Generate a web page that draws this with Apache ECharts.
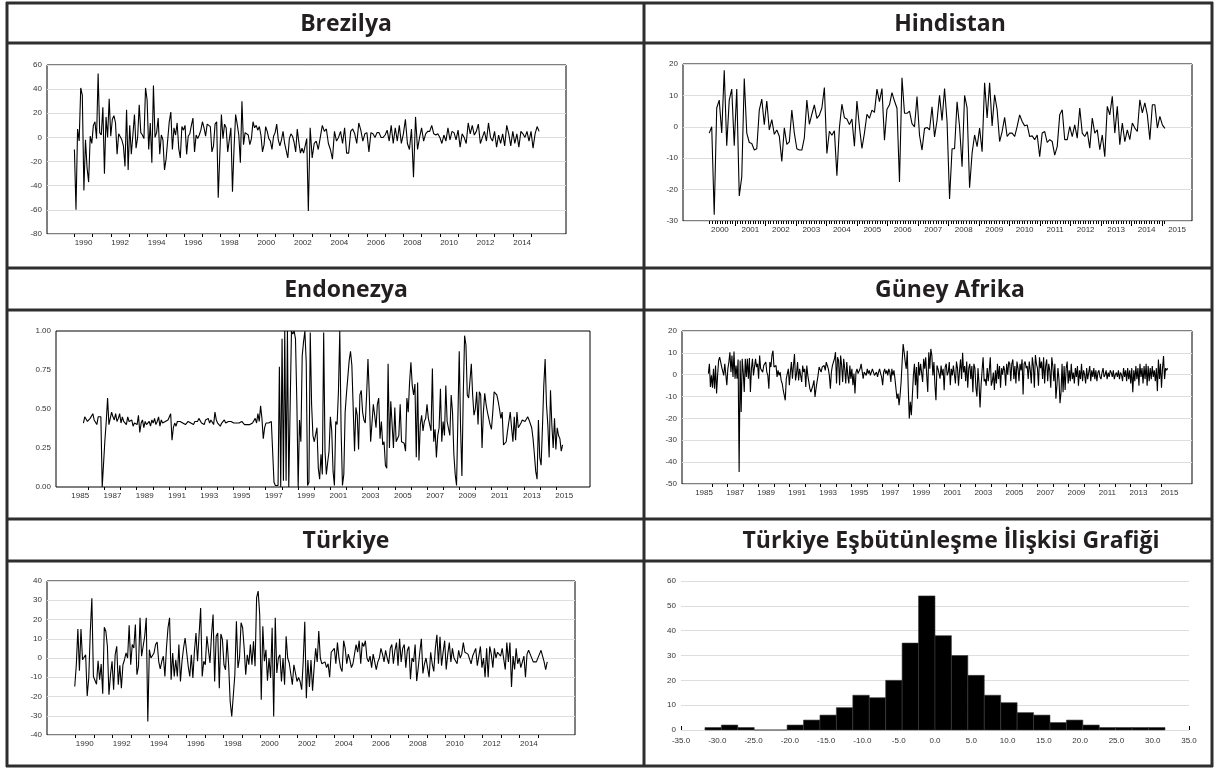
<!DOCTYPE html>
<html>
<head>
<meta charset="utf-8">
<script src="https://cdn.jsdelivr.net/npm/echarts@6.0.0/dist/echarts.min.js"></script>
<style>
html, body { margin: 0; padding: 0; background: #fff; }
#chart { width: 1216px; height: 768px; }
</style>
</head>
<body>
<div id="chart"></div>
<script>
// ---- data ----
var breLabels = [1990, 1992, 1994, 1996, 1998, 2000, 2002, 2004, 2006, 2008, 2010, 2012, 2014];
// 1989 - 2002 crash
var breSpanA = [1989.5, 2002.3];
var breValuesA = [
  -10, -60, 7, -3, 41, 35, -44, -2, -25, -37, 1, -5, 10, 13, -1, 53, 4, 2, 25, -30, 17, 0, 32, 1, 15, 18, 12, -14, 3, 2,
  -2, -7, -24, 23, -27, 10, -14, 2, 19, -9, 0, 27, 4, 2, -1, 41, 31, -10, 12, -21, 43, 0, 4, 16, -14, 2, -2, -27, -18, -18,
  13, 21, -10, 8, 2, 12, -9, -17, 9, 6, 10, -14, 1, 3, 10, 16, -12, 2, -1, 2, 6, 13, 8, 1, 11, 11, 9, -12, -7, 11,
  13, -50, -14, 19, -1, 11, 8, -12, -12, 8, -45, -9, 19, 11, 2, -21, 30, -6, 4, 3, 2, -6, -1, 13, 8, 10, 6, 9, 2, -12,
  -6, 9, 5, -1, -3, -10, 1, 4, 11, -2, -7, -2, 5, -5, -5, -17, -1, 3, 1, -4, -12, 7, -4, -13, -9, -13, -14, -1, -61
];
// after the crash to the end
var breSpanB = [2002.4, 2014.93];
var breValuesB = [
  8, -17, -5, -3, -10, 0, 10, 5, 7, -5, -10, -18, 5, -3, 0, 5, -5, 8, -13, -13, 5, 7, 3, -5, 12, 6, -3, 3, 4, -12,
  4, 3, 0, 4, 4, 0, 0, 2, 6, -3, 10, -5, 8, -3, 10, -5, 3, 15, -5, -10, 7, -33, 17, -10, 0, 8, -3, 3, 5, 5,
  10, 3, 2, 3, 0, -5, 2, -3, 8, -2, 5, 4, -2, 6, -8, 3, 0, -5, 12, 3, 10, 2, 5, 11, -5, 0, 5, -3, 12, 0,
  -3, 5, -8, 2, -5, 3, -7, 10, 3, -7, 5, -5, 3, -8, 5, 3, 0, 5, -3, 5, -9, 3, 9, 5
];

var hinLabels = [2000, 2001, 2002, 2003, 2004, 2005, 2006, 2007, 2008, 2009, 2010, 2011, 2012, 2013, 2014, 2015];
var hinSpan = [1999.65, 2014.6];
var hinValues = [
  -2, 0, -28, 6, 8.5, -2, 18, -6, 8.5, 12, -6, 12, -22, -16, 15.4, -2, -5, -5.3, -7.4, -7,
  5.3, 8.8, 0.7, 8.2, -1, 2.3, -2.4, -1, -3, -11, -0.3, -5.6, -4.8, 5.3, -2, -7, -7.4, -7.4, -3.5, 8.5,
  0.8, 4, 7, 2.7, 3.7, 6, 12.5, -8.5, -1.4, -2.7, -1.3, -15.6, -0.3, 7.2, 2.9, 2.5, 0.7, 2.5, -6.2, 8.2,
  0, -6.9, -2, 4, 2.7, 5.3, 4.6, 12, 8, 12.2, -4.3, 5.6, 7, 10.9, 8.2, 5.9, -17.6, 15.6, 4.3, 4.3,
  5, 1, 0, 9.6, -2.7, -7.4, -0.5, -0.2, -1, 6.4, -3.2, 2, 10, 2, 12.2, 1.6, -23,
  -7, -7, 8, 0, -12.7, 10, 6, -19.4, -8.4, -2.6, -6.3, -0.4, -7.9, 14, 2.8, 14, 0.3, 10.2, 5.4, -4.7,
  -1.5, 3, -3.1, -2, -2, -3.1, 0.1, 3.8, 1.7, 0.3, 0.6, -3.1, -2.9, -4.1, -2.6, -9.5, -2, -1.5, -5, -4.1,
  -4.7, -9, -6.3, 3.8, 5.4, -4.1, -4.1, 0.1, -3.1, 0.6, -3.6, 6, -2, -3.1, -1.5, -6.8, 2.8, -2, -1, -7.3,
  -2.6, -9.5, 6.5, 3.8, 9.7, -2, 6.5, -5.7, 1.2, -4.7, -1, -4.1, 1.2, -0.4, -1.5, 8.6, 4.4, 7.6, 3.8, -4.1,
  7, 7, -0.4, 3.3, 0.6, -0.5
];

var endLabels = [1985, 1987, 1989, 1991, 1993, 1995, 1997, 1999, 2001, 2003, 2005, 2007, 2009, 2011, 2013, 2015];
var endSpan = [1985.2, 2014.9];
var endValues = [
  0.41, 0.45, 0.44, 0.42, 0.43, 0.44, 0.45, 0.47, 0.43, 0.42, 0.40, 0.45, 0.44,
  0.45, 0.00, 0.00, 0.30, 0.42, 0.57, 0.40, 0.41, 0.48, 0.45, 0.43, 0.47,
  0.42, 0.44, 0.47, 0.41, 0.45, 0.42, 0.43, 0.40, 0.45, 0.42, 0.41, 0.43,
  0.39, 0.41, 0.42, 0.40, 0.46, 0.35, 0.41, 0.43, 0.38, 0.42, 0.40, 0.41,
  0.42, 0.39, 0.43, 0.41, 0.44, 0.40, 0.42, 0.45, 0.39, 0.43, 0.41, 0.40,
  0.42, 0.41, 0.43, 0.42, 0.47, 0.30, 0.38, 0.41, 0.39, 0.42, 0.41, 0.42,
  0.42, 0.41, 0.42, 0.40, 0.41, 0.42, 0.43, 0.41, 0.42, 0.40, 0.42, 0.43,
  0.42, 0.44, 0.43, 0.41, 0.42, 0.40, 0.43, 0.42, 0.44, 0.41, 0.43, 0.42,
  0.40, 0.48, 0.43, 0.41, 0.40, 0.39, 0.41, 0.42, 0.43, 0.41, 0.42, 0.42,
  0.41, 0.42, 0.43, 0.41, 0.42, 0.41, 0.42, 0.41, 0.42, 0.42, 0.41, 0.40,
  0.41, 0.40, 0.41, 0.40, 0.40, 0.41, 0.40, 0.44, 0.41, 0.47, 0.42, 0.52,
  0.44, 0.31, 0.38, 0.41, 0.40, 0.41, 0.40, 0.42, 0.41,
  0.03, 0.01, 0.00, 0.01, 0.77, 0.00, 0.95, 0.04, 1.00, 0.04, 1.00, 0.00, 0.00, 1.00, 0.98, 1.00, 0.95, 0.55, 0.00, 0.43,
  0.29, 0.84, 0.93, 1.00, 0.80, 0.01, 0.03, 0.99, 0.53, 0.33, 0.29, 0.28, 0.38, 0.12, 0.05, 0.21, 0.08, 0.99, 0.23, 0.08,
  0.16, 0.23, 0.45, 0.36, 0.10, 0.01, 0.42, 0.40, 0.61, 1.00, 0.36, 0.01, 0.08, 0.48, 0.60, 0.59, 0.81, 0.87, 0.78, 0.78,
  0.23, 0.51, 0.46, 0.24, 0.59, 0.62, 0.48, 0.43, 0.41, 0.59, 0.82, 0.59, 0.29, 0.28, 0.53, 0.46, 0.38, 0.53, 0.57, 0.31,
  0.42, 0.27, 0.29, 0.14, 0.12, 0.79, 0.25, 0.55, 0.54, 0.25, 0.51, 0.29, 0.29, 0.33, 0.53, 0.29, 0.29, 0.28, 0.23, 0.57,
  0.48, 0.67, 0.80, 0.65, 0.59, 0.66, 0.19, 0.67, 0.17, 0.40, 0.46, 0.36, 0.42, 0.44, 0.53, 0.44, 0.43, 0.36, 0.76, 0.29,
  0.37, 0.19, 0.33, 0.38, 0.63, 0.29, 0.42, 0.33, 0.65, 0.42, 0.42, 0.33, 0.59, 0.48, 0.21, 0.08, 0.01, 0.00, 0.87, 0.38,
  0.07, 0.59, 0.97, 0.91, 0.59, 0.57, 0.56, 0.79, 0.59, 0.46, 0.50, 0.61, 0.40, 0.61, 0.59, 0.25, 0.48, 0.60, 0.53, 0.48,
  0.47, 0.40, 0.37, 0.48, 0.61, 0.61, 0.59, 0.55, 0.50, 0.44, 0.48, 0.27, 0.28, 0.29, 0.36, 0.42, 0.48, 0.38, 0.29, 0.45,
  0.30, 0.48, 0.38, 0.38, 0.41, 0.43, 0.42, 0.42, 0.41, 0.45, 0.43, 0.42, 0.38, 0.31, 0.21, 0.10, 0.05, 0.43, 0.19, 0.14,
  0.38, 0.65, 0.82, 0.53, 0.40, 0.19, 0.62, 0.40, 0.25, 0.44, 0.24, 0.38, 0.33, 0.31, 0.23, 0.27
];

var safLabels = [1985, 1987, 1989, 1991, 1993, 1995, 1997, 1999, 2001, 2003, 2005, 2007, 2009, 2011, 2013, 2015];
var safSpan = [1985.28, 2014.88];
var safValues = [
  0.5, 5, -5.6, -0.3, -6, 2.7, -6.4, 4.2, -8.6, -0.3, 6.5, 8, 8.8, 3.5, 2.7, -0.3, 5, 4.2, -4.8, 2.7,
  5.8, 10.3, 1.2, 8.8, -1, 10.6, -1.8, 4.2, -1.8, 7, -44.5, 6.5, -17, 7.3, 1.2, -7.9, 7.3, -1, 7.3, -1.8,
  7.6, -7.9, 2.7, 7.3, -0.3, -0.3, 7.3, 3.5, 5, -1.8, 8.8, 2.7, 3.5, 1.2, 4.2, 5, 5.8, 1.2, -0.3, -6.4,
  5.8, 3.5, 8.8, 11, 3.5, 2.7, 4.2, -1, 2, -0.3, 1.2, -2.6, -4, -7.1, -9.4, -11.7, -1.8, 0.5, 2.7, -4.8,
  1.2, 5.8, -1.8, 4.2, 9.5, -2.6, 0.5, 5.8, -2.6, 2.7, 3.5, -3.3, 4.2, 1.2, 2.7, -5.6, 4.2, -0.3, -3.3, -6.4,
  -7.9, -8.6, -4.8, -2.6, -10.2, -6.4, -3.3, -0.3, 3.5, 2.7, 1.2, 3.5, 2.7, 4.2, 2, 5.8, 4.2, 2.7, -0.3, -6.4,
  1.2, 4.2, 5.8, 7.3, 10.3, -4, 8, 6.5, -4.8, 8.8, 4.2, -3.3, 7.3, 2.7, -4, 5.8, -0.3, -4, 4.2, -1.8,
  2.7, -4.8, 0.5, -8.6, 1.2, 2.7, 0.5, -0.3, 2.7, 5, 4.2, -1.8, 1.2, 2, -0.3, 2.7, 0.5, 2, -0.3, 1.2,
  2.7, 1.2, -0.3, 0, 1.2, -1, 1.2, 2.7, 0.5, -1, -4.8, 1.2, 2.7, 0.5, 2, -0.3, 2.7, 1.2, -3.3, 2.7,
  -0.3, 2, -1.8, -6.4, -11, -8.6, -14, -9.4, -3.3, 5.8, 14, 10.3, 5.8, 2.7, 11, -6.4, -20, -12.4, -18.5, -9.4,
  -0.3, 5, -4.8, 3.5, -11, 5.8, -0.3, 5, 5.8, -3.3, 7.3, 2.7, 8, -0.3, -7.9, 10.3, 2.7, 11.8, 8.8, -0.3,
  5.8, -4.8, -11.7, 4.2, 2.7, 3.5, -1.8, 4.2, -0.3, 2.7, -7.1, 3.5, 5, -0.3, 1.2, 5.8, -4.8, 2.7, -0.3, 4.2,
  5, -4, 6, 3, -5, 2, 7, -2, 10, 1, 4, -3, 6, -6, 3, 5, -2,
  4, -8, 5, 3, -6, -10, 3, -4, -15, -5, 2, 8, -3, -2, -5, 3,
  -3, 2, 8, -5, -3, 1, -7, 2, -4, 5, -2, 4, -6, 3, 0,
  4, 2, -5, 5, 0, 6, 5, -3, 5, 7, -2, 4, -4, 6, 3,
  -3, 5, 2, 7, -9, 5, 6, 3, 4, -2, 6, 2, -4, 8, 4,
  -6, 9, 5, 3, -5, 8, 3, 6, -2, 8, -4, 4, 7, -3, 5,
  2, -6, 8, 4, -3, 5, -11, -5, 3, -2, -13, -8, 5, -8, 4,
  -7, 3, 6, -4, 2, -3, 5, -2, 1, -4, 3, -1, 4, -5, 2,
  -2, 5, -3, 2, 0, -4, 3, -2, 1, 4, -3, 2, -1, 3, -2,
  2, -3, 1, 2, -1, -2, 1, 3, -1, 0, 2, -2, 1, -1, 2,
  1, -1, 2, -2, 0, 1, -1, 2, -2, 1, 0, -3, 3, -1, 2,
  -3, 3, -2, 2, -4, 3, -8, 2, -3, 4, -2, 3, -5, 5, -1,
  3, -4, 4, -2, 5, -5, 4, -3, 3, -2, 4, -1, 2, -3, 3,
  -7.5, 7, -2, 5, -6, 3, 8.5, -2, 3, 2, 3
];

var turLabels = [1990, 1992, 1994, 1996, 1998, 2000, 2002, 2004, 2006, 2008, 2010, 2012, 2014];
var turSpan = [1989.46, 2014.99];
var turValues = [
  -14.8, -3.5, 15.1, -6.6, 15.1, -0.9, -1.4, 1.7, -19.7, -10.4, 13.9, 31, -9.6, -9.6, -13.6, -1.4, -11.3, -3.1, -18.6, 16,
  13.9, 6.1, -19.1, -8.7, -1.7, -16.5, 1.7, 6.1, -13.9, -3.8, -15.7, -3.5, -0.9, 2.6, 0, 17, -3.5, 7, 5.2, 17.4,
  -8.7, -4.3, 20.9, 0.9, 1.7, 11.3, 20.9, -33, 4.3, 0, 0, 2.6, 7, 8.3, -1.7, -5.6, -1.7, 0.9, -9.6, 5.2,
  15.7, 20.9, -11.3, 2.6, -9.6, -0.9, -9.6, 7, -12.2, -1.7, 5.2, 10.4, 11.3, -4.3, -9.6, 1.7, -10.4, 3.5, 13, -1.7,
  12.2, 26, -9.6, -1.7, -3.5, 11.3, 12.2, -2.6, 12.2, 22.6, -12.2, 11.3, 13, -15.7, 12.5, 9.6, -3.5, -6.1, 9.6, -3.5,
  -22.6, -30.4, -31.3, -8.7, 19.1, -5.2, 0, 18.3, 15.7, 5.2, -8.7, 1.7, -3.5, 7, -3.5, 8.7, -4.3, 31.3, 34.8, 22.6,
  -21.7, 16.5, -1.7, 4.3, -11.8, 0, -10.4, 15.7, -30.4, 20.9, -7.8, 0, 1.7, -12.2, 0, -13.9, 11.3, 0, -2.6, -2.6,
  -13.9, -3.5, -7.8, -12.2, -10.1, -12.2, -16.5, -1.7, 18.8, -20.9,
  -1, -15, -1, -17, -5, 5, -2, 14, 0, -3, -3, -2, -5, -3, -10, 3, 2, 5, -3, 8,
  0, -5, -7, 9, 5, -3, 2, -1, -5, -3, 2, 7, 3, 9, -3, 8, 6, 9, 0, -2,
  1, -5, 2, 3, -6, -2, 0, 5, 2, -2, 4, 0, -3, 5, 7, -3, 4, 8, -4, 10,
  -2, 5, 7, -5, 4, 6, -11, 0, -2, 7, -12, -5, 3, 10, -8, -3, 0, -5, -10, 3,
  -3, -7, 5, 12, -3, 11, -4, 3, 9, -6, 2, 8, -2, 5, 0, 1, -3, 4, 0, 2,
  8, 3, 2, 2, 3, -3, 1, 0, 5, -4, -3, 6, -5, 0, -10, 5, -10, 6, 2, -5,
  5, 0, 3, 2, 1, 5, 6, -6, 8, -2, 8, -15, 1, -6, 5, -3, 0, -5, -2, 1,
  -10, 2, 4, 2, 3, -2, -2, -2, -3, 2, 4, 3, -2, -6, -2
];

// histogram of the Turkish cointegration residuals
var histStart = -31.7;
var histWidth = 2.264;
var histCounts = [1, 2, 1, 0, 0, 2, 4, 6, 9, 14, 13, 20, 35, 54, 38, 30, 22, 14, 11, 7, 6, 3, 4, 2, 1, 1, 1, 1];
var histLabels = [-35, -30, -25, -20, -15, -10, -5, 0, 5, 10, 15, 20, 25, 30, 35];

// ---- helpers ----
function toPairs(values, span) {
  var step = (span[1] - span[0]) / (values.length - 1);
  return values.map(function (v, i) { return [span[0] + i * step, v]; });
}
function yearTicks(a, b, step) {
  var out = [];
  for (var t = a; t <= b + 1e-9; t += step) out.push(+t.toFixed(4));
  return out;
}

var labelFont = { fontSize: 8, color: '#333', fontFamily: 'Liberation Sans' };

function xAxisFor(idx, min, max, labels, ticks, fmt) {
  return {
    type: 'value', gridIndex: idx, min: min, max: max, position: 'bottom',
    axisLine: { show: false, onZero: false },
    splitLine: { show: false },
    axisTick: { show: true, customValues: ticks, length: 3, lineStyle: { color: '#000', width: 1 } },
    axisLabel: Object.assign({ customValues: labels, margin: 5, formatter: fmt }, labelFont)
  };
}
function yAxisFor(idx, min, max, interval, grid, fmt) {
  return {
    type: 'value', gridIndex: idx, min: min, max: max, interval: interval,
    axisLine: { show: false, onZero: false },
    axisTick: { show: false },
    splitLine: { show: grid, lineStyle: { color: '#dedede', width: 1 } },
    axisLabel: Object.assign({ margin: 5, formatter: fmt }, labelFont)
  };
}
function lineSeries(idx, data) {
  return {
    type: 'line', xAxisIndex: idx, yAxisIndex: idx,
    data: data,
    showSymbol: false, symbol: 'none', silent: true,
    lineStyle: { color: '#000', width: 1.1 }
  };
}

var yearFmt = function (v) { return String(Math.round(v)); };
var box = { show: true, borderColor: '#000', borderWidth: 1, backgroundColor: '#fff' };

var histData = histCounts.map(function (c, i) {
  return [histStart + i * histWidth, histStart + (i + 1) * histWidth, c];
});

// hindistan: monthly small ticks and year ticks on a second axis
var hinMonthTicks = yearTicks(1999.667, 2014.6, 1 / 12);
var hinYearTicks = yearTicks(2000.5, 2014.5, 1);

var myChart = echarts.init(document.getElementById('chart'), null, { renderer: 'canvas' });

var option = {
  animation: false,
  backgroundColor: '#fff',
  grid: [
    Object.assign({ left: 47, top: 65, width: 519, height: 169 }, box),
    Object.assign({ left: 683, top: 64, width: 509, height: 157 }, box),
    Object.assign({ left: 56, top: 331, width: 534, height: 156 }, box),
    Object.assign({ left: 682, top: 331, width: 510, height: 153 }, box),
    Object.assign({ left: 47, top: 581, width: 528, height: 154 }, box),
    { left: 681, top: 581, width: 508, height: 149, show: false }
  ],
  xAxis: [
    xAxisFor(0, 1988.0, 2016.4, breLabels, yearTicks(1989.5, 2014.5, 1), yearFmt),
    xAxisFor(1, 1998.79, 2015.49, hinLabels, hinMonthTicks, yearFmt),
    xAxisFor(2, 1983.5, 2016.6, endLabels, yearTicks(1985.5, 2014.5, 1), yearFmt),
    xAxisFor(3, 1983.58, 2016.45, safLabels, yearTicks(1985.5, 2014.5, 1), yearFmt),
    xAxisFor(4, 1987.96, 2016.49, turLabels, yearTicks(1989.5, 2014.5, 1), yearFmt),
    {
      type: 'value', gridIndex: 5, min: -35, max: 35, interval: 5, position: 'bottom',
      axisLine: { show: false, onZero: false },
      splitLine: { show: false },
      axisTick: { show: true, customValues: [-35, 35], inside: true, length: 4, lineStyle: { color: '#000' } },
      axisLabel: Object.assign({ customValues: histLabels, margin: 7, formatter: function (v) { return v.toFixed(1); } }, labelFont)
    },
    {
      type: 'value', gridIndex: 1, min: 1998.79, max: 2015.49, position: 'bottom',
      axisLine: { show: false, onZero: false }, splitLine: { show: false },
      axisTick: { show: true, customValues: hinYearTicks, length: 5, lineStyle: { color: '#000' } },
      axisLabel: { show: false }
    }
  ],
  yAxis: [
    yAxisFor(0, -80, 60, 20, true),
    yAxisFor(1, -30, 20, 10, true),
    yAxisFor(2, 0, 1, 0.25, false, function (v) { return v.toFixed(2); }),
    yAxisFor(3, -50, 20, 10, true),
    yAxisFor(4, -40, 40, 10, true),
    yAxisFor(5, 0, 60, 10, true)
  ],
  series: [
    lineSeries(0, toPairs(breValuesA, breSpanA).concat(toPairs(breValuesB, breSpanB))),
    lineSeries(1, toPairs(hinValues, hinSpan)),
    lineSeries(2, toPairs(endValues, endSpan)),
    lineSeries(3, toPairs(safValues, safSpan)),
    lineSeries(4, toPairs(turValues, turSpan)),
    {
      type: 'custom', xAxisIndex: 5, yAxisIndex: 5, silent: true,
      data: histData,
      renderItem: function (params, api) {
        var p0 = api.coord([api.value(0), api.value(2)]);
        var p1 = api.coord([api.value(1), 0]);
        return {
          type: 'rect',
          shape: { x: p0[0], y: p0[1], width: p1[0] - p0[0], height: p1[1] - p0[1] },
          style: { fill: '#000', stroke: '#3a3a3a', lineWidth: 0.6 }
        };
      }
    }
  ],
  graphic: []
};

// table frame and titles
var tableStroke = { stroke: '#2e2e2e', lineWidth: 3 };
var hLines = [3, 43, 268, 310, 519, 561, 766];
var vLines = [7, 644, 1212];
hLines.forEach(function (y) {
  option.graphic.push({ type: 'line', shape: { x1: 6, y1: y, x2: 1213, y2: y }, style: tableStroke, z: 100 });
});
vLines.forEach(function (x) {
  option.graphic.push({ type: 'line', shape: { x1: x, y1: 2, x2: x, y2: 767 }, style: tableStroke, z: 100 });
});
var titles = [
  ['Brezilya', 346, 24], ['Hindistan', 950, 24],
  ['Endonezya', 346, 290], ['Güney Afrika', 950, 290],
  ['Türkiye', 346, 541], ['Türkiye Eşbütünleşme İlişkisi Grafiği', 951, 541]
];
titles.forEach(function (t) {
  option.graphic.push({
    type: 'text', x: t[1], y: t[2], z: 100,
    style: { text: t[0], font: 'bold 23px "Open Sans"', fill: '#231f20', align: 'center', verticalAlign: 'middle' }
  });
});

myChart.setOption(option);
</script>
</body>
</html>
